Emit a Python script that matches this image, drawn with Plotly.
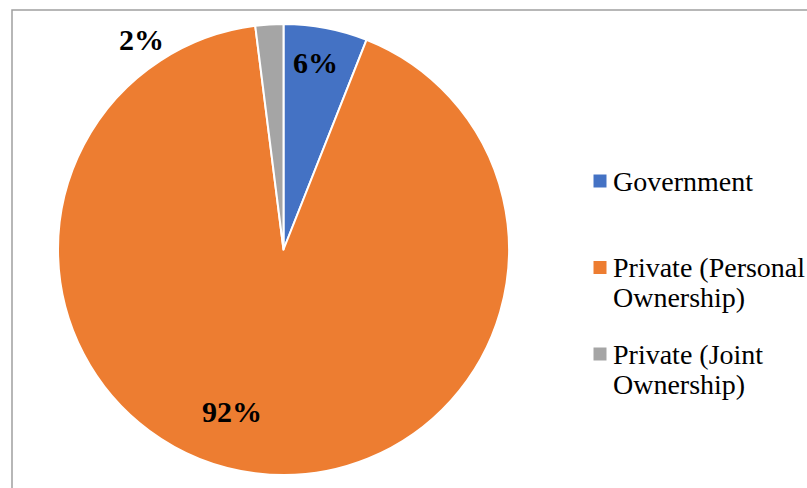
import plotly.graph_objects as go

# dados do grafico
categorias = ['Government', 'Private (Personal Ownership)', 'Private (Joint Ownership)']
legenda_linhas = [['Government'], ['Private (Personal', 'Ownership)'], ['Private (Joint', 'Ownership)']]
valores = [6, 92, 2]
cores = ['#4472C4', '#ED7D31', '#A5A5A5']

W, H = 807, 488
fonte = 'Liberation Serif, Times New Roman, Times, serif'

# posicoes dos rotulos (px) e da legenda
pos_rotulos = [(315.5, 62.5), (231.5, 411), (141.5, 39)]
leg_x, leg_y0, leg_passo, linha_passo = 600, 181, 86.5, 30

fig = go.Figure(go.Pie(
    labels=categorias,
    values=valores,
    sort=False,
    direction='clockwise',
    rotation=0,
    marker=dict(colors=cores, line=dict(color='white', width=2)),
    textinfo='none',
    hoverinfo='label+percent',
    domain=dict(x=[58 / W, 509 / W], y=[(H - 475) / H, (H - 24) / H]),
    showlegend=False,
))

anotacoes = []
for v, (px_, py_) in zip(valores, pos_rotulos):
    anotacoes.append(dict(
        x=px_ / W, y=1 - py_ / H, xref='paper', yref='paper',
        text=f'<b>{v}%</b>', showarrow=False,
        xanchor='center', yanchor='middle',
        font=dict(family=fonte, size=30, color='black'),
    ))

formas = [dict(type='rect', xref='paper', yref='paper',
               x0=12 / W, x1=1.02, y0=-0.02, y1=1 - 10 / H,
               line=dict(color='#A0A0A0', width=1.5))]

for i, (linhas, cor) in enumerate(zip(legenda_linhas, cores)):
    yc = leg_y0 + i * leg_passo
    formas.append(dict(type='rect', xref='paper', yref='paper',
                       x0=(leg_x - 6.5) / W, x1=(leg_x + 6.5) / W,
                       y0=1 - (yc + 6.5) / H, y1=1 - (yc - 6.5) / H,
                       line=dict(width=0), fillcolor=cor))
    for j, linha in enumerate(linhas):
        anotacoes.append(dict(
            x=(leg_x + 11) / W, y=1 - (yc + j * linha_passo) / H,
            xref='paper', yref='paper', text=linha, showarrow=False,
            xanchor='left', yanchor='middle',
            font=dict(family=fonte, size=28, color='black'),
        ))

fig.update_layout(
    width=W, height=H,
    margin=dict(t=0, b=0, l=0, r=0),
    paper_bgcolor='white',
    plot_bgcolor='white',
    annotations=anotacoes,
    shapes=formas,
)

# tira a margem padrao do body
fig.write_html('out.html', config={'displayModeBar': False},
               post_script="document.body.style.margin='0';")
